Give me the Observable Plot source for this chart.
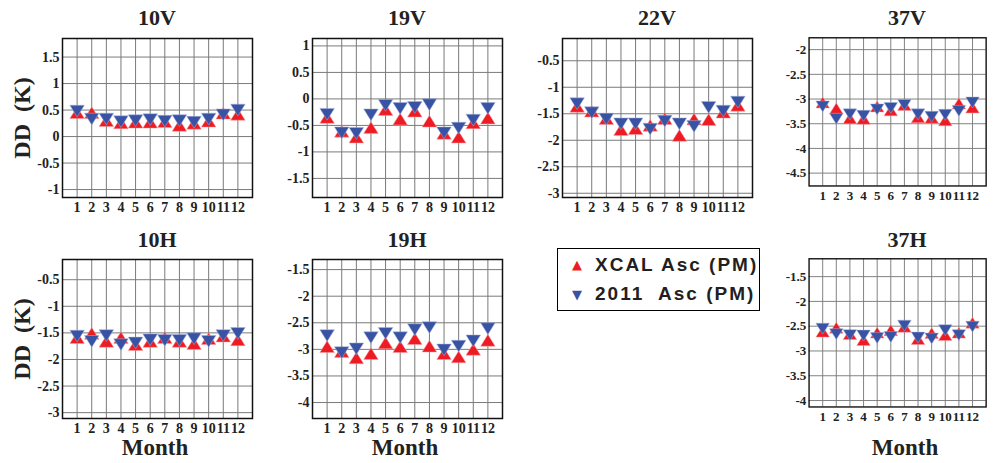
<!DOCTYPE html>
<html><head><meta charset="utf-8">
<script src="https://cdn.jsdelivr.net/npm/d3@7"></script>
<script src="https://cdn.jsdelivr.net/npm/@observablehq/plot@0.6"></script>
<style>
body{margin:0;background:#fff;overflow:hidden}
#fig{position:relative;width:995px;height:463px;overflow:hidden;font-family:"Liberation Serif","Times New Roman",serif;color:#222}
#fig svg text{font-family:"Liberation Serif","Times New Roman",serif !important;font-weight:bold;font-size:14px;fill:#222}
.panel{position:absolute}
.title{position:absolute;font-weight:bold;font-size:22px;line-height:22px;text-align:center;width:120px}
.xlab{position:absolute;font-weight:bold;font-size:23px;line-height:23px;text-align:center;width:140px}
.ylab{position:absolute;font-weight:bold;font-size:24px;white-space:pre;transform:translate(-50%,-50%) rotate(-90deg)}
#legend{position:absolute;left:557px;top:248px;width:203px;height:63px;box-sizing:border-box;border:1px solid #000;background:#fff;font-family:"Liberation Sans",Arial,sans-serif;font-weight:bold;font-size:19px;letter-spacing:2px;color:#231f20}
#legend .sym{position:absolute;font-family:"DejaVu Sans",sans-serif;font-size:13px;letter-spacing:0}
#legend .txt{position:absolute;left:37px;white-space:pre}
</style></head>
<body><div id="fig"></div>
<script>
const months = [1,2,3,4,5,6,7,8,9,10,11,12];
const seriesNames = ["XCAL Asc (PM)", "2011  Asc (PM)"];
const colors = ["#ed1c24", "#3953a4"];

// XCAL Asc (PM) values (red, up triangles)
const xcal10V = [0.45,0.45,0.30,0.26,0.27,0.27,0.28,0.21,0.25,0.29,0.44,0.42];
const xcal19V = [-0.35,-0.61,-0.72,-0.54,-0.20,-0.38,-0.23,-0.42,-0.65,-0.72,-0.45,-0.36];
const xcal22V = [-1.36,-1.45,-1.59,-1.80,-1.78,-1.72,-1.59,-1.91,-1.60,-1.61,-1.47,-1.34];
const xcal37V = [-3.07,-3.19,-3.39,-3.40,-3.15,-3.23,-3.12,-3.37,-3.38,-3.43,-3.09,-3.17];
const xcal10H = [-1.59,-1.51,-1.66,-1.59,-1.72,-1.66,-1.59,-1.66,-1.70,-1.61,-1.56,-1.63];
const xcal19H = [-2.95,-3.04,-3.16,-3.08,-2.88,-2.95,-2.80,-2.94,-3.08,-3.14,-3.00,-2.83];
const xcal37H = [-2.61,-2.53,-2.66,-2.78,-2.63,-2.58,-2.51,-2.76,-2.64,-2.68,-2.63,-2.43];

// 2011 Asc (PM) values (blue, down triangles)
const asc10V = [0.48,0.33,0.33,0.28,0.30,0.32,0.29,0.30,0.27,0.33,0.41,0.50];
const asc19V = [-0.29,-0.64,-0.65,-0.30,-0.12,-0.18,-0.16,-0.11,-0.64,-0.55,-0.40,-0.18];
const asc22V = [-1.31,-1.48,-1.60,-1.69,-1.69,-1.79,-1.64,-1.69,-1.74,-1.38,-1.45,-1.28];
const asc37V = [-3.15,-3.40,-3.31,-3.34,-3.21,-3.18,-3.12,-3.31,-3.36,-3.32,-3.24,-3.07];
const asc10H = [-1.56,-1.66,-1.55,-1.72,-1.69,-1.63,-1.64,-1.64,-1.61,-1.66,-1.55,-1.51];
const asc19H = [-2.74,-3.06,-2.99,-2.78,-2.70,-2.78,-2.63,-2.59,-3.01,-2.94,-2.84,-2.61];
const asc37H = [-2.55,-2.66,-2.68,-2.69,-2.74,-2.72,-2.49,-2.73,-2.75,-2.58,-2.68,-2.51];

// y-axis tick labels and limits per panel
const ticks10V = [-1,-0.5,0,0.5,1,1.5];
const ticks19V = [-1.5,-1,-0.5,0,0.5,1];
const ticks22V = [-3,-2.5,-2,-1.5,-1,-0.5];
const ticks37V = [-4.5,-4,-3.5,-3,-2.5,-2];
const ticks10H = [-3,-2.5,-2,-1.5,-1,-0.5];
const ticks19H = [-4,-3.5,-3,-2.5,-2,-1.5];
const ticks37H = [-4,-3.5,-3,-2.5,-2,-1.5];
const lim10V = [-1.15,1.85];
const lim19V = [-1.86,1.14];
const lim22V = [-3.08,-0.08];
const lim37V = [-4.76,-1.76];
const lim10H = [-3.11,-0.12];
const lim19H = [-4.30,-1.31];
const lim37H = [-4.13,-1.14];

const panels = [
  {name:"10V", xcal:xcal10V, asc:asc10V, ticks:ticks10V, lim:lim10V, col:0, row:0},
  {name:"19V", xcal:xcal19V, asc:asc19V, ticks:ticks19V, lim:lim19V, col:1, row:0},
  {name:"22V", xcal:xcal22V, asc:asc22V, ticks:ticks22V, lim:lim22V, col:2, row:0},
  {name:"37V", xcal:xcal37V, asc:asc37V, ticks:ticks37V, lim:lim37V, col:3, row:0},
  {name:"10H", xcal:xcal10H, asc:asc10H, ticks:ticks10H, lim:lim10H, col:0, row:1},
  {name:"19H", xcal:xcal19H, asc:asc19H, ticks:ticks19H, lim:lim19H, col:1, row:1},
  {name:"37H", xcal:xcal37H, asc:asc37H, ticks:ticks37H, lim:lim37H, col:3, row:1}
];

const triUp = {draw(ctx, size){const r=Math.sqrt(size/Math.PI);const w=r*1.3,h=r*1.05;ctx.moveTo(0,-h);ctx.lineTo(w,h);ctx.lineTo(-w,h);ctx.closePath();}};
const triDown = {draw(ctx, size){const r=Math.sqrt(size/Math.PI);const w=r*1.3,h=r*1.05;ctx.moveTo(0,h);ctx.lineTo(w,-h);ctx.lineTo(-w,-h);ctx.closePath();}};

const fig = document.getElementById("fig");
const ML=50, MR=10, MT=10, MB=25, FW=190, FH=159;
const frameLefts = [62,312,562,812];
const frameTops = [38,258.5];
const fmt = d => String(d);
const fontOpts = {fontFamily:"Liberation Serif, Times New Roman, serif", fontWeight:"bold", fontSize:14};

for (const p of panels) {
  const dx = months.map((m,i)=>({month:m, v:p.xcal[i]}));
  const da = months.map((m,i)=>({month:m, v:p.asc[i]}));
  const chart = Plot.plot({
    width: ML+FW+MR, height: MT+FH+MB,
    marginLeft: ML, marginRight: MR, marginTop: MT, marginBottom: MB,
    x: {domain:[0,13]},
    y: {domain:p.lim},
    style: {background:"transparent", color:"#222", fontFamily:"Liberation Serif, serif", fontWeight:"bold", fontSize:"14px", overflow:"visible"},
    marks: [
      Plot.gridX(months, {stroke:"#7a7a7a", strokeOpacity:1, strokeWidth:1}),
      Plot.gridY(p.ticks, {stroke:"#7a7a7a", strokeOpacity:1, strokeWidth:1}),
      Plot.axisX(months, {tickSize:0, tickPadding:5, tickFormat:fmt, label:null, ...fontOpts}),
      Plot.axisY(p.ticks, {tickSize:0, tickPadding:3, tickFormat:fmt, label:null, ...fontOpts}),
      Plot.dot(dx, {x:"month", y:"v", symbol:triUp, r:5.6, fill:colors[0], stroke:"#f7a0a0", strokeWidth:0.5}),
      Plot.dot(da, {x:"month", y:"v", symbol:triDown, r:5.6, fill:colors[1], stroke:"#a8b4dc", strokeWidth:0.5}),
      Plot.frame({stroke:"#111", strokeWidth:1.5})
    ]
  });
  const wrap = document.createElement("div");
  wrap.className = "panel";
  wrap.style.left = (frameLefts[p.col]-ML)+"px";
  wrap.style.top = (frameTops[p.row]-MT)+"px";
  wrap.appendChild(chart);
  fig.appendChild(wrap);

  const t = document.createElement("div");
  t.className = "title";
  t.textContent = p.name;
  t.style.left = (frameLefts[p.col]+FW/2-60)+"px";
  t.style.top = (p.row===0 ? 7 : 229)+"px";
  fig.appendChild(t);

  if (p.row===1) {
    const xl = document.createElement("div");
    xl.className = "xlab";
    xl.textContent = "Month";
    xl.style.left = (frameLefts[p.col]+FW/2-72)+"px";
    xl.style.top = "436px";
    fig.appendChild(xl);
  }
  if (p.col===0) {
    const yl = document.createElement("div");
    yl.className = "ylab";
    yl.textContent = "DD  (K)";
    yl.style.left = "22px";
    yl.style.top = (p.row===0 ? 118 : 339)+"px";
    fig.appendChild(yl);
  }
}

// legend
const lg = document.createElement("div");
lg.id = "legend";
seriesNames.forEach((name,i)=>{
  const sym = document.createElement("div");
  sym.className = "sym";
  sym.textContent = i===0 ? "▲" : "▼";
  sym.style.color = colors[i];
  sym.style.left = "14px";
  sym.style.top = (i===0 ? 8 : 38)+"px";
  lg.appendChild(sym);
  const tx = document.createElement("div");
  tx.className = "txt";
  tx.textContent = name;
  tx.style.top = (i===0 ? 5 : 34)+"px";
  lg.appendChild(tx);
});
fig.appendChild(lg);
</script></body></html>
